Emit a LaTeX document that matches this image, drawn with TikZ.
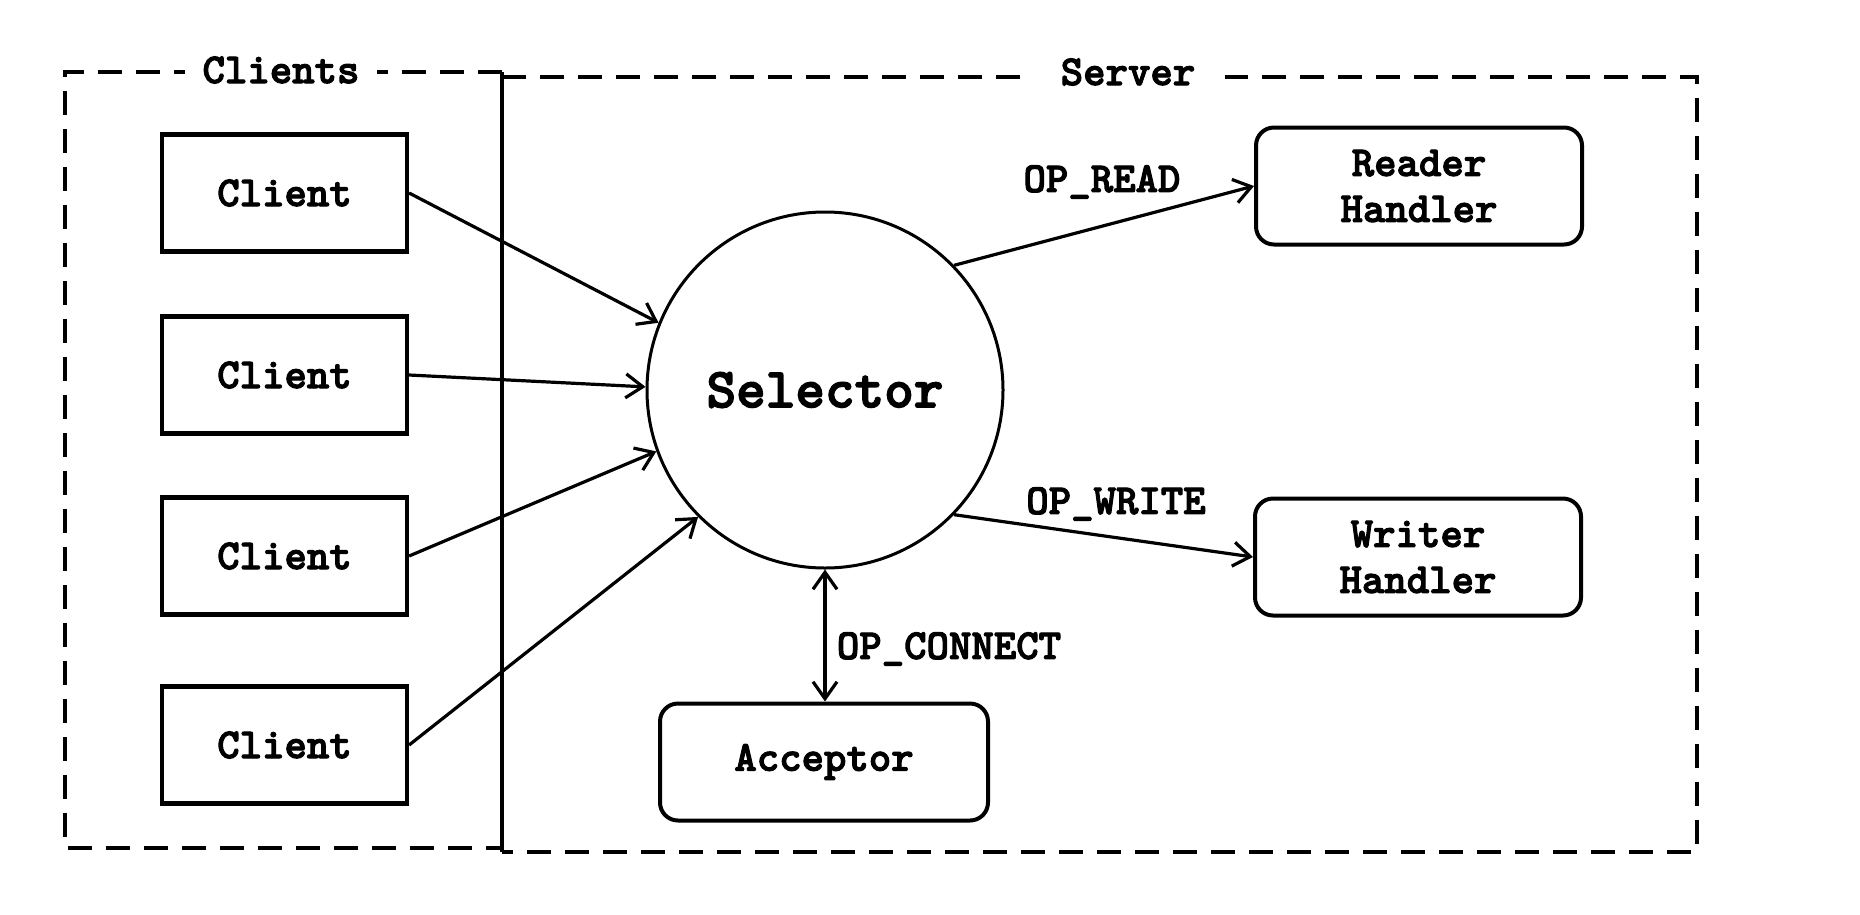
\documentclass[tikz,border=0pt]{standalone}
\usepackage{fontspec}
\newfontfamily\courfont{lmmonolt10-bold.otf}[FakeBold=2.5]
\usetikzlibrary{arrows.meta}
\begin{document}
\begin{tikzpicture}[x=1pt,y=-1pt,
  txt/.style={font=\fontsize{42.7}{46}\selectfont\courfont},
  clientbox/.style={txt, draw, line width=4.2pt, minimum width=245pt, minimum height=117pt, inner sep=0pt},
  rbox/.style={txt, draw, line width=4pt, rounded corners=18pt, minimum width=326pt, minimum height=117pt, inner sep=0pt, align=center},
  conn/.style={line width=3.2pt, -{Straight Barb[length=17pt,width=24pt]}},
  frame/.style={line width=4.6pt, dash pattern=on 24pt off 14pt},
  framelabel/.style={txt, fill=white, inner xsep=18pt, inner ysep=2pt}]
\useasboundingbox (0,0) rectangle (1860,914);
\fill[white] (0,0) rectangle (1860,914);

% frames
\draw[frame] (502,72) -- (65,72) -- (65,848) -- (502,848);
\draw[frame] (502,77) -- (1697,77) -- (1697,852) -- (502,852);
\draw[line width=4.4pt] (502,72) -- (502,852);
\node[framelabel] (lclients) at (281,70) {Clients};
\node[framelabel, inner xsep=30pt] (lserver) at (1128,72) {Server};

% nodes
\node[clientbox] (c1) at (284.5,193) {Client};
\node[clientbox] (c2) at (284.5,375) {Client};
\node[clientbox] (c3) at (284.5,556) {Client};
\node[clientbox] (c4) at (284.5,745) {Client};
\node[circle, draw, line width=3pt, minimum size=356pt, inner sep=0pt,
      font=\fontsize{56.4}{58}\selectfont\courfont] (sel) at (825,390) {Selector};
\node[rbox] (rh) at (1419,186) {Reader\\Handler};
\node[rbox] (wh) at (1418,557) {Writer\\Handler};
\node[rbox, minimum width=328pt] (acc) at (824,762) {Acceptor};

% connectors
\draw[conn] (c1.east) -- (sel.158.5);
\draw[conn] (c2.east) -- (sel.179.5);
\draw[conn] (c3.east) -- (sel.200);
\draw[conn] (c4.east) -- (sel.225);
\draw[conn] (sel.44.5) -- (rh.west);
\draw[conn] (sel.-44.5) -- (wh.west);
\draw[conn, {Straight Barb[length=17pt,width=24pt]}-{Straight Barb[length=17pt,width=24pt]}] (sel.south) -- (sel.south |- acc.north);

% labels
\node[txt] (lread) at (1102,182) {OP\_READ};
\node[txt] (lwrite) at (1116,504) {OP\_WRITE};
\node[txt] (lconn) at (949,649) {OP\_CONNECT};
\end{tikzpicture}
\end{document}
